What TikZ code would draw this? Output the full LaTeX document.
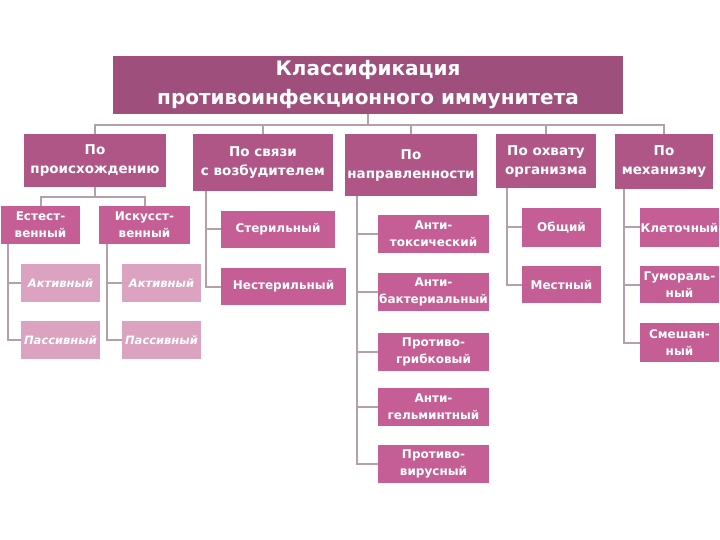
\documentclass[tikz,border=0pt]{standalone}
\usepackage{fontspec}
\setmainfont{DejaVu Sans}
\usetikzlibrary{positioning}
\definecolor{titlecol}{HTML}{9E4F7B}
\definecolor{headcol}{HTML}{AF5686}
\definecolor{itemcol}{HTML}{C55E95}
\definecolor{palecol}{HTML}{DCA3C1}
\definecolor{linecol}{HTML}{B3A0AA}

\begin{document}
\begin{tikzpicture}[x=1pt,y=-1pt]
\tikzstyle{titlebox}=[fill=titlecol,text=white,inner sep=1pt,outer sep=0pt,
align=center,font=\fontsize{20}{29}\selectfont\bfseries]
\tikzstyle{headbox}=[fill=headcol,text=white,inner sep=1pt,outer sep=0pt,
align=center,font=\fontsize{13.5}{19}\selectfont\bfseries]
\tikzstyle{itembox}=[fill=itemcol,text=white,inner sep=1pt,outer sep=0pt,
align=center,minimum height=38pt,font=\fontsize{12}{17}\selectfont\bfseries]
\tikzstyle{palebox}=[itembox,fill=palecol,font=\fontsize{11.5}{15}\selectfont\bfseries\itshape]
\tikzstyle{link}=[draw=linecol,line width=2pt]

\useasboundingbox (0,0) rectangle (720,540);

\node[titlebox,minimum width=510pt,minimum height=58pt] at (368,85) (title) {Классификация\\противоинфекционного иммунитета};

\node[headbox,minimum width=142pt,minimum height=53pt] at (95,160.5) (origin) {По\\происхождению};
\node[headbox,minimum width=140pt,minimum height=57pt] at (263,162.5) (agent) {По связи\\с возбудителем};
\node[headbox,minimum width=132pt,minimum height=62pt] at (411,165) (target) {По\\направленности};
\node[headbox,minimum width=100pt,minimum height=54pt] at (546,161) (scope) {По охвату\\организма};
\node[headbox,minimum width=98pt,minimum height=55pt] at (664,161.5) (mech) {По\\механизму};

\node[itembox,minimum width=79pt] at (40.5,225) (natural) {Естест-\\венный};
\node[itembox,minimum width=91pt] at (144.5,225) (artif) {Искусст-\\венный};
\node[palebox,minimum width=79pt] at (60.5,283) (act1) {Активный};
\node[palebox,minimum width=79pt] at (60.5,340) (pas1) {Пассивный};
\node[palebox,minimum width=79pt] at (161.5,283) (act2) {Активный};
\node[palebox,minimum width=79pt] at (161.5,340) (pas2) {Пассивный};

\node[itembox,minimum width=114pt,minimum height=37pt] at (278,229.5) (steril) {Стерильный};
\node[itembox,minimum width=125pt,minimum height=37pt] at (283.5,286.5) (nonsteril) {Нестерильный};

\node[itembox,minimum width=111pt] at (433.5,234) (antitox) {Анти-\\токсический};
\node[itembox,minimum width=111pt] at (433.5,291.5) (antibac) {Анти-\\бактериальный};
\node[itembox,minimum width=111pt] at (433.5,351.5) (antifung) {Противо-\\грибковый};
\node[itembox,minimum width=111pt] at (433.5,406.5) (antihelm) {Анти-\\гельминтный};
\node[itembox,minimum width=111pt] at (433.5,464) (antivir) {Противо-\\вирусный};

\node[itembox,minimum width=79pt,minimum height=39pt] at (561.5,227.5) (general) {Общий};
\node[itembox,minimum width=79pt,minimum height=37pt] at (561.5,284.5) (local) {Местный};

\node[itembox,minimum width=79pt,minimum height=39pt] at (679.5,227.5) (cell) {Клеточный};
\node[itembox,minimum width=79pt,minimum height=37pt] at (679.5,284.5) (humor) {Гумораль-\\ный};
\node[itembox,minimum width=79pt,minimum height=39pt] at (679.5,342.5) (mixed) {Смешан-\\ный};

% connectors
\coordinate (bus) at (368,125);
\coordinate (obus) at (95,197);
\draw[link] (title.south) -- (bus);
\foreach \n in {origin,agent,target,scope,mech}
  \draw[link] (\n.north) |- (bus);
\draw[link] (origin.south) -- (obus);
\foreach \n in {natural,artif}
  \draw[link] (\n.north) |- (obus);

\foreach \n in {act1,pas1}
  \draw[link] ([xshift=7pt]natural.south west) |- (\n.west);
\foreach \n in {act2,pas2}
  \draw[link] ([xshift=8pt]artif.south west) |- (\n.west);
\foreach \n in {steril,nonsteril}
  \draw[link] ([xshift=13pt]agent.south west) |- (\n.west);
\foreach \n in {antitox,antibac,antifung,antihelm,antivir}
  \draw[link] ([xshift=12pt]target.south west) |- (\n.west);
\foreach \n in {general,local}
  \draw[link] ([xshift=11pt]scope.south west) |- (\n.west);
\foreach \n in {cell,humor,mixed}
  \draw[link] ([xshift=9pt]mech.south west) |- (\n.west);

\end{tikzpicture}
\end{document}
